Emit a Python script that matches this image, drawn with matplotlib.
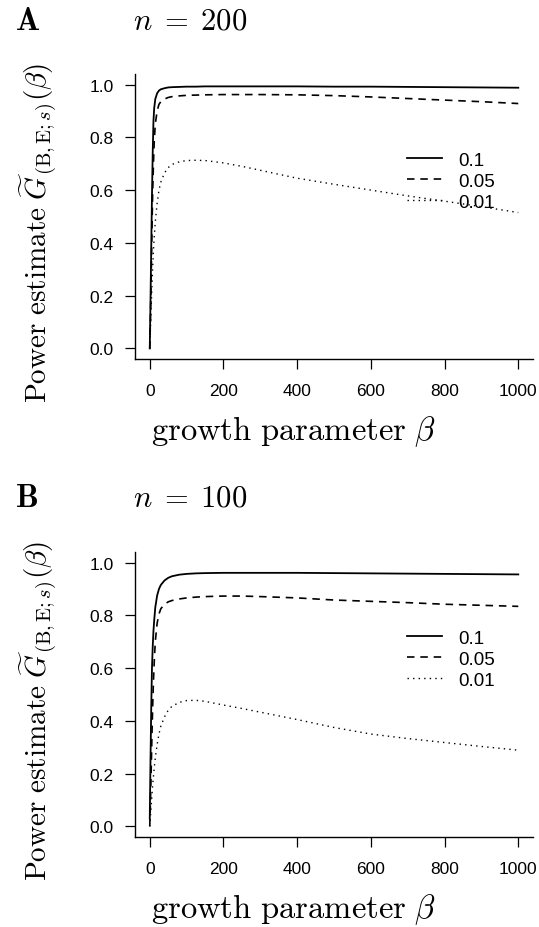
import matplotlib
matplotlib.use('Agg')
import matplotlib.pyplot as plt
import numpy as np

plt.rcParams['mathtext.fontset'] = 'cm'

# growth parameter grid
beta = [0, 2, 4, 6, 8, 10, 12, 15, 20, 25, 30, 40, 50, 60, 80, 100, 125, 150,
        200, 250, 300, 400, 500, 600, 700, 800, 900, 1000]

# n = 200
a_010 = [0.0, 0.18, 0.38, 0.58, 0.74, 0.86, 0.91, 0.945, 0.967, 0.977, 0.982, 0.986,
         0.989, 0.99, 0.991, 0.992, 0.992, 0.993, 0.993, 0.993, 0.993, 0.993, 0.992,
         0.992, 0.991, 0.99, 0.989, 0.988]
a_005 = [0.0, 0.12, 0.28, 0.45, 0.6, 0.7, 0.78, 0.85, 0.9, 0.925, 0.935, 0.945, 0.951,
         0.954, 0.957, 0.959, 0.96, 0.961, 0.962, 0.962, 0.962, 0.961, 0.958, 0.953,
         0.947, 0.941, 0.935, 0.928]
a_001 = [0.0, 0.08, 0.16, 0.24, 0.31, 0.37, 0.42, 0.48, 0.55, 0.6, 0.63, 0.665, 0.685,
         0.697, 0.707, 0.712, 0.713, 0.712, 0.703, 0.69, 0.675, 0.645, 0.622, 0.6,
         0.578, 0.558, 0.537, 0.515]

# n = 100
b_010 = [0.03, 0.25, 0.45, 0.6, 0.68, 0.74, 0.78, 0.83, 0.875, 0.9, 0.915, 0.932,
         0.942, 0.948, 0.954, 0.957, 0.959, 0.96, 0.961, 0.961, 0.961, 0.961, 0.96,
         0.959, 0.958, 0.957, 0.956, 0.955]
b_005 = [0.0, 0.1, 0.22, 0.35, 0.46, 0.55, 0.62, 0.7, 0.77, 0.805, 0.825, 0.842, 0.851,
         0.856, 0.862, 0.866, 0.869, 0.871, 0.873, 0.873, 0.871, 0.866, 0.858, 0.853,
         0.848, 0.842, 0.838, 0.834]
b_001 = [0.0, 0.04, 0.08, 0.12, 0.16, 0.19, 0.22, 0.26, 0.31, 0.35, 0.38, 0.415, 0.44,
         0.455, 0.47, 0.477, 0.478, 0.474, 0.46, 0.447, 0.433, 0.405, 0.375, 0.35,
         0.333, 0.318, 0.303, 0.289]

levels = ['0.1', '0.05', '0.01']
letters = ['A', 'B']
sizes = [200, 100]

fig = plt.figure(figsize=(5.39, 9.28), dpi=100)
ax_a = fig.add_axes([0.2505, 0.6121, 0.7384, 0.3071])
ax_b = fig.add_axes([0.2505, 0.0970, 0.7384, 0.3071])

styles = ['-', (0, (4.5, 3.5)), (0, (1, 3))]
widths = [1.3, 1.2, 1.0]

for ax, series in [(ax_a, [a_010, a_005, a_001]), (ax_b, [b_010, b_005, b_001])]:
    for ys, ls, lw, lab in zip(series, styles, widths, levels):
        ax.plot(beta, ys, color='black', linestyle=ls, linewidth=lw, label=lab)
    ax.set_xlim(-40, 1040)
    ax.set_ylim(-0.04, 1.04)
    ax.set_xticks([0, 200, 400, 600, 800, 1000])
    ax.set_yticks([0.0, 0.2, 0.4, 0.6, 0.8, 1.0])
    ax.set_yticklabels(['0.0', '0.2', '0.4', '0.6', '0.8', '1.0'])
    for s in ['top', 'right']:
        ax.spines[s].set_visible(False)
    for s in ['left', 'bottom']:
        ax.spines[s].set_linewidth(1.0)
    ax.tick_params(direction='out', length=7, width=0.9, labelsize=12.5)
    ax.tick_params(axis='x', pad=10)
    ax.tick_params(axis='y', pad=8.5)
    for t in ax.get_xticklabels() + ax.get_yticklabels():
        t.set_fontfamily('Liberation Sans')
    ax.legend(loc='upper left', bbox_to_anchor=(0.683, 0.727), frameon=False,
              prop={'family': 'Liberation Sans', 'size': 13.5}, handlelength=1.9,
              handletextpad=0.85, labelspacing=0.2, borderpad=0, borderaxespad=0)
    ax.set_xlabel(r'$\mathrm{growth\ parameter}\ \beta$', fontsize=23.5)
    ax.xaxis.set_label_coords(0.398, -0.19)
    ax.set_ylabel(r'$\mathrm{Power\ estimate}\ \widetilde{G}_{(\mathrm{B,E};s)}(\beta)$',
                  fontsize=21)
    ax.yaxis.set_label_coords(-0.19, 0.445)

# panel titles
for ypix, letter, n in [(30, letters[0], sizes[0]), (507, letters[1], sizes[1])]:
    fy = 1 - ypix / 928
    fig.text(15 / 539, fy, r'$\mathbf{%s}$' % letter, fontsize=23, va='baseline')
    fig.text(133 / 539, fy, r'$n\;=\;%d$' % n, fontsize=22, va='baseline')

fig.savefig('out.png', dpi=100)
